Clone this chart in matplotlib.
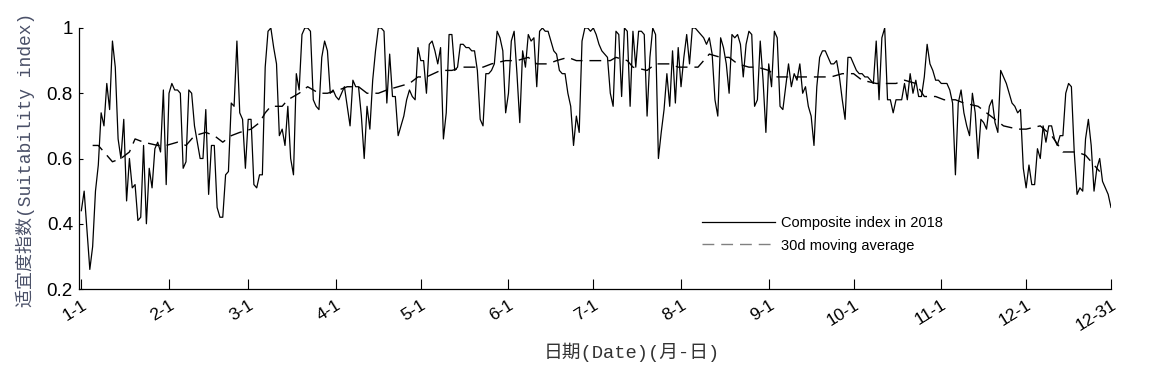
import numpy as np
import matplotlib
matplotlib.use("Agg")
import matplotlib.pyplot as plt

# ---------- datos ----------
# indice compuesto diario de 2018 (dia 0 = 1-1)
composite = [
    0.44, 0.50, 0.38, 0.26, 0.33, 0.50, 0.58, 0.74, 0.70, 0.83,
    0.75, 0.96, 0.88, 0.66, 0.60, 0.72, 0.47, 0.60, 0.51, 0.52,
    0.41, 0.42, 0.64, 0.40, 0.57, 0.51, 0.63, 0.65, 0.62, 0.81,
    0.52, 0.80, 0.83, 0.81, 0.81, 0.80, 0.57, 0.59, 0.81, 0.80,
    0.70, 0.65, 0.60, 0.60, 0.75, 0.49,
    0.64, 0.64, 0.45, 0.42, 0.42, 0.55, 0.56, 0.77, 0.76, 0.96,
    0.74, 0.72, 0.57, 0.72, 0.72, 0.52, 0.51, 0.55, 0.55, 0.88,
    0.99, 1.00, 0.94, 0.89, 0.67, 0.69, 0.64, 0.76, 0.60, 0.55,
    0.86, 0.81, 0.98, 1.00, 1.00, 0.99, 0.78, 0.76, 0.75, 0.91,
    0.96, 0.93, 0.80, 0.81, 0.79,
    0.78, 0.80, 0.82, 0.76, 0.70, 0.84, 0.82, 0.82, 0.73, 0.60,
    0.76, 0.69, 0.84, 0.93, 1.00, 1.00, 0.99, 0.77, 0.92, 0.79,
    0.79, 0.67, 0.70, 0.73, 0.78, 0.81, 0.79, 0.78, 0.94, 0.90,
    0.90, 0.80, 0.95, 0.96, 0.93, 0.89, 0.94, 0.66, 0.74, 0.98,
    0.98, 0.87, 0.88, 0.95, 0.95, 0.94, 0.94,
    0.93, 0.93, 0.87, 0.72, 0.70, 0.86, 0.86, 0.87, 0.89, 0.99,
    0.97, 0.93, 0.74, 0.80, 0.96, 0.99, 0.86, 0.71, 0.93, 0.88,
    0.98, 0.96, 0.97, 0.82, 0.99, 1.00, 0.99, 0.99, 0.96, 0.93,
    0.92, 0.87, 0.86, 0.86, 0.80, 0.76, 0.64, 0.73, 0.68, 0.96,
    1.00, 1.00, 0.99, 1.00, 0.98,
    0.95, 0.93, 0.92, 0.91, 0.80, 0.76, 0.99, 0.98, 0.79, 1.00,
    0.99, 0.76, 0.99, 0.88, 0.99, 0.99, 0.98, 0.73, 0.91, 1.00,
    0.98, 0.60, 0.68, 0.75, 0.86, 0.76, 0.93, 0.77, 0.94, 0.82,
    0.91, 0.98, 0.89, 1.00, 1.00, 0.99, 0.98, 0.97, 0.95, 0.97,
    0.92, 0.78, 0.73, 0.97, 0.94, 0.89, 0.80,
    0.98, 0.97, 0.98, 0.95, 0.85, 0.95, 0.99, 0.98, 0.76, 0.78,
    0.96, 0.84, 0.68, 0.89, 0.82, 0.99, 0.97, 0.76, 0.75, 0.82,
    0.89, 0.82, 0.86, 0.84, 0.89, 0.80, 0.82, 0.76, 0.73, 0.64,
    0.82, 0.91, 0.93, 0.93, 0.91, 0.89, 0.89, 0.90, 0.85, 0.78,
    0.72, 0.91, 0.91, 0.89, 0.87, 0.86,
    0.86, 0.85, 0.85, 0.84, 0.83, 0.96, 0.78, 0.97, 1.00, 0.78,
    0.78, 0.74, 0.78, 0.78, 0.78, 0.83, 0.78, 0.86, 0.80, 0.84,
    0.79, 0.79, 0.85, 0.95, 0.89, 0.87, 0.84, 0.84, 0.83, 0.83,
    0.83, 0.81, 0.77, 0.55, 0.77, 0.81, 0.74, 0.70, 0.67, 0.80,
    0.74, 0.60, 0.72, 0.71, 0.69, 0.76,
    0.78, 0.71, 0.68, 0.87, 0.85, 0.83, 0.80, 0.77, 0.76, 0.74,
    0.75, 0.57, 0.51, 0.58, 0.52, 0.52, 0.63, 0.60, 0.70, 0.65,
    0.70, 0.70, 0.66, 0.64, 0.67, 0.67, 0.80, 0.83, 0.82, 0.62,
    0.49, 0.51, 0.50, 0.66, 0.72, 0.64, 0.50, 0.57, 0.60, 0.53,
    0.51, 0.49, 0.45,
]

# media movil de 30 dias
ma_days = [4, 6, 8, 11, 14, 17, 19, 22, 27, 30, 34, 37, 40, 44, 47, 50, 53, 56,
           60, 63, 65, 67, 71, 73, 77, 80, 84, 87, 91, 94, 98, 101, 105, 108,
           112, 116, 119, 122, 127, 131, 135, 138, 142, 145, 150, 154, 158,
           161, 165, 168, 172, 175, 180, 184, 187, 189, 193, 195, 200, 203,
           208, 211, 215, 218, 222, 226, 229, 232, 236, 239, 243, 246, 251,
           254, 258, 261, 265, 269, 273, 276, 281, 283, 288, 291, 295, 298,
           302, 305, 309, 312, 317, 320, 326, 331, 334, 339, 343, 347, 352,
           355, 358, 360]
ma_values = [0.64, 0.64, 0.62, 0.59, 0.60, 0.62, 0.66, 0.65, 0.64, 0.64, 0.65,
             0.64, 0.67, 0.68, 0.67, 0.65, 0.67, 0.68, 0.69, 0.71, 0.74, 0.76,
             0.76, 0.78, 0.80, 0.82, 0.80, 0.80, 0.81, 0.82, 0.82, 0.80, 0.80,
             0.81, 0.82, 0.83, 0.85, 0.85, 0.87, 0.87, 0.88, 0.88, 0.88, 0.89,
             0.90, 0.90, 0.91, 0.89, 0.89, 0.90, 0.91, 0.90, 0.90, 0.90, 0.90,
             0.91, 0.90, 0.88, 0.87, 0.89, 0.89, 0.88, 0.88, 0.88, 0.92, 0.91,
             0.91, 0.89, 0.88, 0.88, 0.87, 0.85, 0.85, 0.85, 0.85, 0.85, 0.85,
             0.86, 0.86, 0.84, 0.83, 0.83, 0.83, 0.84, 0.83, 0.79, 0.79, 0.78,
             0.78, 0.77, 0.76, 0.74, 0.70, 0.69, 0.69, 0.70, 0.67, 0.62, 0.62,
             0.61, 0.58, 0.56]

tick_days = [0, 31, 59, 90, 120, 151, 181, 212, 243, 273, 304, 334, 364]
tick_labels = ['1-1', '2-1', '3-1', '4-1', '5-1', '6-1', '7-1', '8-1', '9-1',
               '10-1', '11-1', '12-1', '12-31']
ytick_vals = [0.2, 0.4, 0.6, 0.8, 1.0]
ytick_labels = ['0.2', '0.4', '0.6', '0.8', '1']

# ---------- figura ----------
plt.rcParams['font.family'] = ['Liberation Sans', 'DejaVu Sans']

fig = plt.figure(figsize=(11.62, 3.71), dpi=100)
ax = fig.add_axes([78.5 / 1162, 1 - 289 / 371, (1111 - 78.5) / 1162, (289 - 28) / 371])

days = np.arange(len(composite))
ax.plot(days, composite, color='k', lw=0.9, label='Composite index in 2018')
ax.plot(ma_days, ma_values, color='k', lw=1.0, dashes=(8.5, 5),
        label='30d moving average')

ax.set_xlim(-1, 364)
ax.set_ylim(0.2, 1.0)

ax.set_xticks(tick_days)
ax.set_xticklabels(tick_labels, rotation=32, ha='right', va='top',
                   rotation_mode='anchor', fontsize=12.5)
ax.set_yticks(ytick_vals)
ax.set_yticklabels(ytick_labels, fontsize=13.5)

ax.tick_params(axis='x', direction='in', length=7, width=0.8, pad=6)
ax.tick_params(axis='y', direction='in', length=3, width=0.8, pad=4)

for s in ['top', 'right']:
    ax.spines[s].set_visible(False)
for s in ['left', 'bottom']:
    ax.spines[s].set_linewidth(0.9)

leg = ax.legend(loc='center left', bbox_to_anchor=(0.597, 0.21), frameon=False,
                fontsize=10.5, handlelength=5.0, handletextpad=0.4,
                labelspacing=0.6, borderpad=0)
leg.get_lines()[1].set_color('0.5')

fig.text(25 / 1162, 1 - 160 / 371, '适宜度指数(Suitability index)', rotation=90,
         ha='center', va='center', fontsize=13, color='#4a5068',
         family=['Liberation Mono', 'Noto Sans CJK SC'])
fig.text(632 / 1162, 1 - 352 / 371, '日期(Date)(月-日)', ha='center', va='center',
         fontsize=13.5, color='#333333',
         family=['Liberation Mono', 'Noto Sans CJK SC'])

fig.savefig('out.png', dpi=100)
